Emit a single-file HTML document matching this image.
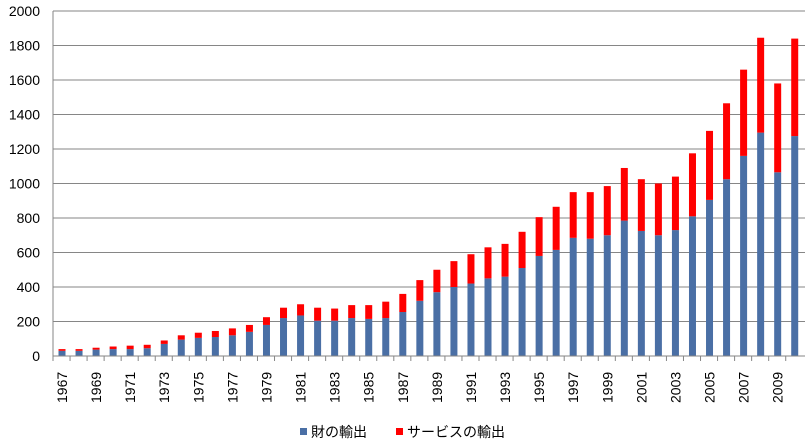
<!DOCTYPE html>
<html><head><meta charset="utf-8"><style>body{margin:0;background:#fff}svg{display:block}</style></head>
<body>
<svg id="s" width="808" height="446" xmlns="http://www.w3.org/2000/svg" font-family="Liberation Sans, Noto Sans CJK JP, sans-serif">
<g id="grid"></g><g id="bars"></g><g id="lab"></g>
<line x1="53" y1="11" x2="53" y2="356" stroke="#868686"/>
<line x1="53" y1="356" x2="805" y2="356" stroke="#868686"/>
<rect x="300" y="428" width="7" height="7" fill="#4a6fa5"/>
<text x="311" y="437" font-size="14" fill="#000">財の輸出</text>
<rect x="396" y="428" width="7" height="7" fill="#ff0000"/>
<text x="407" y="437" font-size="14" fill="#000">サービスの輸出</text>
</svg>
<script>
const tot=[40,40,48,55,60,65,90,120,135,145,160,180,225,280,300,280,275,295,295,315,360,440,500,550,590,630,650,720,805,865,950,950,985,1090,1025,1000,1040,1175,1305,1465,1660,1845,1580,1840];
const blu=[30,30,37,40,40,45,70,95,105,110,120,140,180,220,235,205,205,220,215,220,255,320,370,400,420,450,460,510,580,615,685,680,700,785,725,700,730,810,905,1025,1160,1295,1065,1275];
const k=0.1725,Y=v=>356-v*k;let g='',b='',l='';
for(let v=200;v<=2000;v+=200)g+=`<line x1="53" x2="805" y1="${Y(v)}" y2="${Y(v)}" stroke="#868686"/>`;
for(let v=0;v<=2000;v+=200)g+=`<text x="40" y="${Y(v)+5}" font-size="14" text-anchor="end">${v}</text>`;
for(let i=0;i<44;i++){const x=62+i*17.04;
b+=`<rect x="${x-3.5}" y="${Y(blu[i])}" width="7" height="${blu[i]*k}" fill="#4a6fa5"/>`;
b+=`<rect x="${x-3.5}" y="${Y(tot[i])}" width="7" height="${(tot[i]-blu[i])*k}" fill="#ff0000"/>`;
const tx=53+i*17.04;l+=`<line x1="${tx}" x2="${tx}" y1="356" y2="361" stroke="#868686"/>`;
if(i%2==0)l+=`<text transform="translate(${x+5},403) rotate(-90)" font-size="14" text-anchor="start">${1967+i}</text>`;}
document.getElementById('grid').innerHTML=g;document.getElementById('bars').innerHTML=b;document.getElementById('lab').innerHTML=l;
</script>
</body></html>
